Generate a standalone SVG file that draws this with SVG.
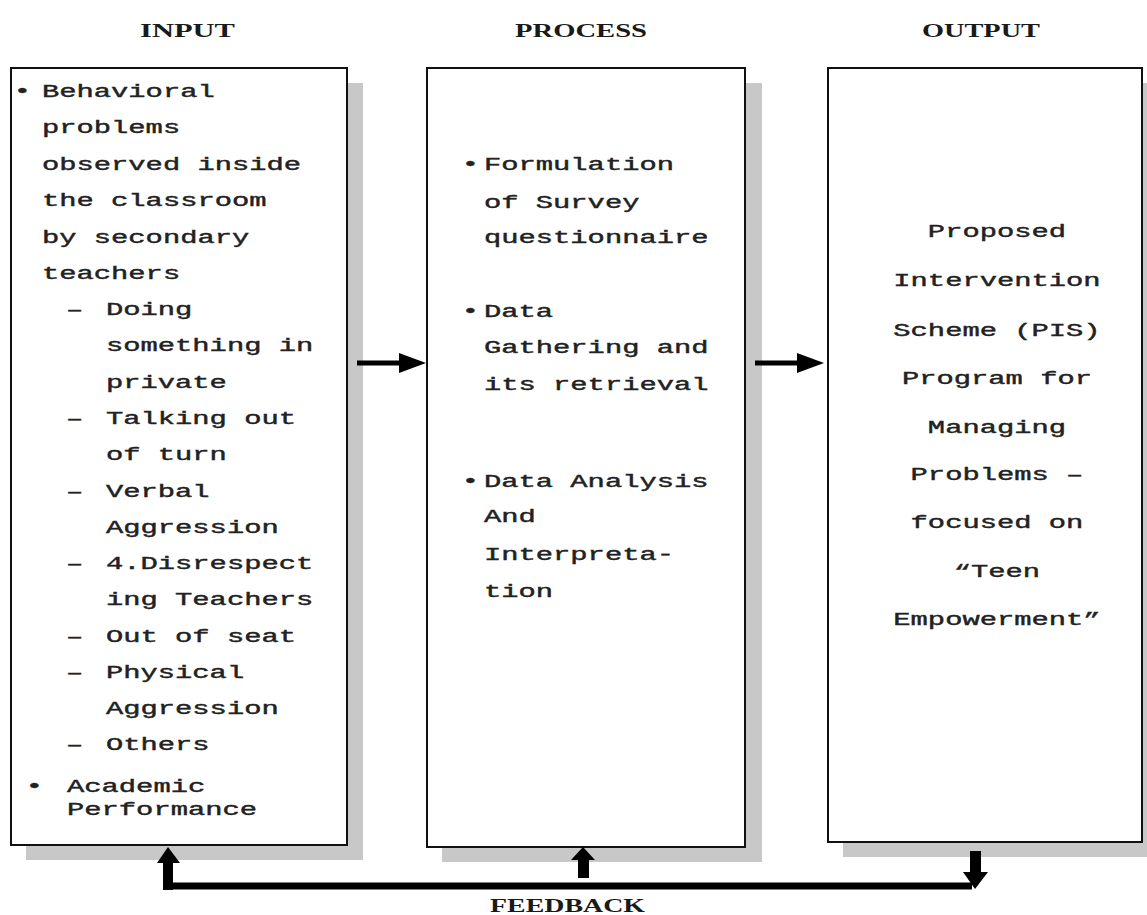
<svg xmlns="http://www.w3.org/2000/svg" width="1147" height="915" viewBox="0 0 1147 915">
<style>
.shadow{fill:#c8c8c8;stroke:none}
.box{fill:#fff;stroke:#111;stroke-width:2}
.head{font-family:"Liberation Serif",serif;font-weight:bold;font-size:19px;fill:#1a1a1a}
.body{font-family:"Courier New","Liberation Mono",monospace;font-size:18px;fill:#222;stroke:#222;stroke-width:0.4}
.ctr{text-anchor:middle}
.arrow{fill:#000;stroke:none}
.line{stroke:#000;fill:none}
</style>
<rect width="1147" height="915" fill="#fff"/>

<g id="headings">
<text class="head" x="140" y="37" textLength="95" lengthAdjust="spacingAndGlyphs">INPUT</text>
<text class="head" x="515" y="37" textLength="132" lengthAdjust="spacingAndGlyphs">PROCESS</text>
<text class="head" x="922" y="37" textLength="118" lengthAdjust="spacingAndGlyphs">OUTPUT</text>
</g>

<g id="input">
<rect class="shadow" x="26" y="83" width="337" height="777"/>
<rect class="box" x="11" y="68" width="336" height="777"/>
<g transform="scale(1.6 1)" class="body">
<text class="ctr" x="14.06" y="97">•</text>
<text x="26.25" y="97">Behavioral</text>
<text x="26.25" y="133">problems</text>
<text x="26.25" y="170">observed inside</text>
<text x="26.25" y="206">the classroom</text>
<text x="26.25" y="243">by secondary</text>
<text x="26.25" y="279">teachers</text>
<text x="41.25" y="315">–</text>
<text x="66.25" y="315">Doing</text>
<text x="66.25" y="351">something in</text>
<text x="66.25" y="388">private</text>
<text x="41.25" y="424">–</text>
<text x="66.25" y="424">Talking out</text>
<text x="66.25" y="460">of turn</text>
<text x="41.25" y="497">–</text>
<text x="66.25" y="497">Verbal</text>
<text x="66.25" y="533">Aggression</text>
<text x="41.25" y="569">–</text>
<text x="66.25" y="569">4.Disrespect</text>
<text x="66.25" y="605">ing Teachers</text>
<text x="41.25" y="642">–</text>
<text x="66.25" y="642">Out of seat</text>
<text x="41.25" y="678">–</text>
<text x="66.25" y="678">Physical</text>
<text x="66.25" y="714">Aggression</text>
<text x="41.25" y="750">–</text>
<text x="66.25" y="750">Others</text>
<text class="ctr" x="21.56" y="792">•</text>
<text x="41.9" y="792">Academic</text>
<text x="41.9" y="815">Performance</text>
</g>
</g>

<g id="process">
<rect class="shadow" x="442" y="83" width="320" height="779"/>
<rect class="box" x="427" y="68" width="318" height="779"/>
<g transform="scale(1.6 1)" class="body">
<text class="ctr" x="294.06" y="170">•</text>
<text x="302.5" y="170">Formulation</text>
<text x="302.5" y="208">of Survey</text>
<text x="302.5" y="243">questionnaire</text>
<text class="ctr" x="294.06" y="317">•</text>
<text x="302.5" y="317">Data</text>
<text x="302.5" y="353">Gathering and</text>
<text x="302.5" y="390">its retrieval</text>
<text class="ctr" x="294.06" y="487">•</text>
<text x="302.5" y="487">Data Analysis</text>
<text x="302.5" y="522">And</text>
<text x="302.5" y="560">Interpreta-</text>
<text x="302.5" y="597">tion</text>
</g>
</g>

<g id="output">
<rect class="shadow" x="843" y="83" width="320" height="774"/>
<rect class="box" x="828" y="68" width="314" height="774"/>
<g transform="scale(1.6 1)" class="body ctr">
<text class="ctr" x="623.1" y="237">Proposed</text>
<text class="ctr" x="623.1" y="286">Intervention</text>
<text class="ctr" x="623.1" y="336">Scheme (PIS)</text>
<text class="ctr" x="623.1" y="384">Program for</text>
<text class="ctr" x="623.1" y="433">Managing</text>
<text class="ctr" x="623.1" y="480">Problems –</text>
<text class="ctr" x="623.1" y="528">focused on</text>
<text class="ctr" x="623.1" y="577">“Teen</text>
<text class="ctr" x="623.1" y="625">Empowerment”</text>
</g>
</g>

<g id="connectors">
<line class="line" x1="357" y1="363" x2="402" y2="363" stroke-width="5"/>
<polygon class="arrow" points="399,353 426,363 399,373"/>
<line class="line" x1="755" y1="363" x2="800" y2="363" stroke-width="5"/>
<polygon class="arrow" points="797,353 824,363 797,373"/>
<line class="line" x1="163" y1="886" x2="972" y2="886" stroke-width="7"/>
<rect class="arrow" x="163" y="861" width="10" height="29"/>
<polygon class="arrow" points="157,863 168,847 180,863"/>
<rect class="arrow" x="578" y="857" width="11" height="21"/>
<polygon class="arrow" points="571,860 583,847 595,860"/>
<rect class="arrow" x="970" y="851" width="11" height="23"/>
<polygon class="arrow" points="963,872 975,889 988,872"/>
</g>

<g id="feedback-label">
<text class="head" x="490" y="912" textLength="155" lengthAdjust="spacingAndGlyphs">FEEDBACK</text>
</g>
</svg>
